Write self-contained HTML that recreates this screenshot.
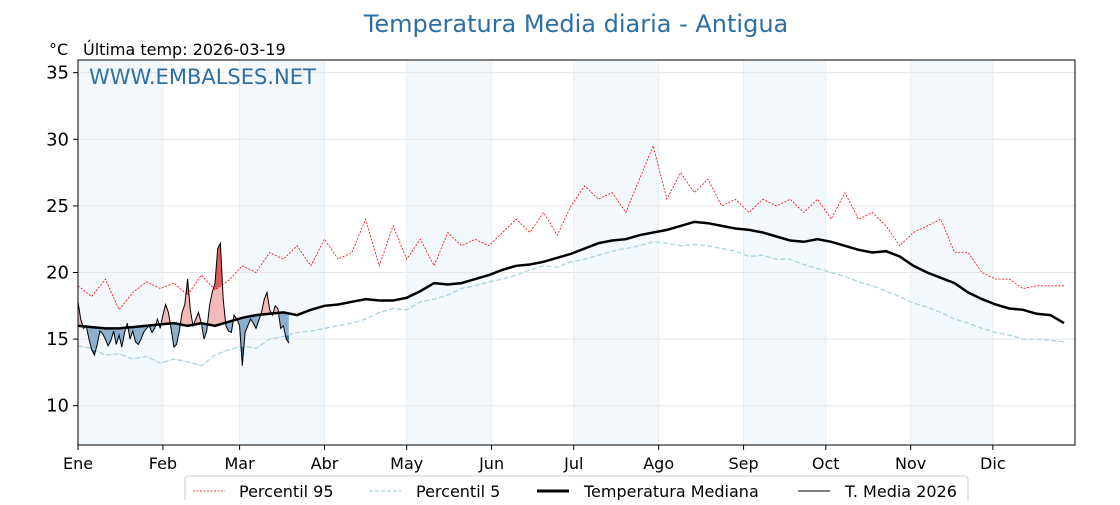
<!DOCTYPE html>
<html><head><meta charset="utf-8">
<style>
body{margin:0;background:#fff;width:1120px;height:500px;overflow:hidden;font-family:"Liberation Sans","DejaVu Sans",sans-serif}
</style></head>
<body>
<svg id="chart" width="1120" height="500" xmlns="http://www.w3.org/2000/svg" font-family="'DejaVu Sans','Liberation Sans',sans-serif">
<text x="576" y="32" text-anchor="middle" font-size="24" fill="#2e6fa3">Temperatura Media diaria - Antigua</text>
<text x="49" y="55" font-size="16">°C</text>
<text x="83" y="55" font-size="16">Última temp: 2026-03-19</text>
<g id="bands"></g><g id="grid"></g><g id="fills"></g><g id="lines"></g><g id="axes"></g>
<text x="89" y="84" font-size="21" fill="#2e6fa3">WWW.EMBALSES.NET</text>
<g>
<rect x="185" y="476" width="783" height="32" rx="3" fill="#fff" stroke="#ccc"/>
<line x1="193" y1="491" x2="225" y2="491" stroke="red" stroke-width="0.8" stroke-dasharray="2,1.5"/>
<text x="239" y="497" font-size="16">Percentil 95</text>
<line x1="369" y1="491" x2="401" y2="491" stroke="#a8d4e3" stroke-width="1.2" stroke-dasharray="4,2"/>
<text x="416" y="497" font-size="16">Percentil 5</text>
<line x1="537" y1="491" x2="569" y2="491" stroke="#000" stroke-width="3"/>
<text x="584" y="497" font-size="16">Temperatura Mediana</text>
<line x1="798" y1="491" x2="830" y2="491" stroke="#000" stroke-width="1"/>
<text x="845" y="497" font-size="16">T. Media 2026</text>
</g>
</svg>
<script>
const months=["Ene","Feb","Mar","Abr","May","Jun","Jul","Ago","Sep","Oct","Nov","Dic"];
const monthStart=[0,31,59,90,120,151,181,212,243,273,304,334];
const yTicks=[10,15,20,25,30,35];
const step=5;
const median=[16.0,15.9,15.8,15.8,15.9,16.0,16.1,16.2,16.0,16.2,16.0,16.3,16.6,16.8,16.9,17.0,16.8,17.2,17.5,17.6,17.8,18.0,17.9,17.9,18.1,18.6,19.2,19.1,19.2,19.5,19.8,20.2,20.5,20.6,20.8,21.1,21.4,21.8,22.2,22.4,22.5,22.8,23.0,23.2,23.5,23.8,23.7,23.5,23.3,23.2,23.0,22.7,22.4,22.3,22.5,22.3,22.0,21.7,21.5,21.6,21.2,20.5,20.0,19.6,19.2,18.5,18.0,17.6,17.3,17.2,16.9,16.8,16.2];
const p95=[19.0,18.2,19.5,17.2,18.5,19.3,18.8,19.2,18.3,19.8,18.7,19.4,20.5,20.0,21.5,21.0,22.0,20.5,22.5,21.0,21.5,24.0,20.5,23.5,21.0,22.5,20.5,23.0,22.0,22.5,22.0,23.0,24.0,23.0,24.5,22.8,25.0,26.5,25.5,26.0,24.5,27.0,29.5,25.5,27.5,26.0,27.0,25.0,25.5,24.5,25.5,25.0,25.5,24.5,25.5,24.0,26.0,24.0,24.5,23.5,22.0,23.0,23.5,24.0,21.5,21.5,20.0,19.5,19.5,18.8,19.0,19.0,19.0];
const p5=[14.5,14.3,13.8,13.9,13.5,13.7,13.2,13.5,13.3,13.0,13.8,14.2,14.5,14.3,15.0,15.2,15.5,15.6,15.8,16.0,16.2,16.5,17.0,17.3,17.2,17.8,18.0,18.3,18.8,19.0,19.3,19.5,19.8,20.2,20.5,20.4,20.8,21.0,21.3,21.6,21.8,22.0,22.3,22.2,22.0,22.1,22.0,21.8,21.6,21.2,21.3,21.0,21.0,20.6,20.3,20.0,19.7,19.3,19.0,18.6,18.2,17.7,17.4,17.0,16.5,16.2,15.8,15.5,15.3,15.0,15.0,14.9,14.8];
const t2026=[17.8,16.5,15.8,16.0,15.0,14.2,13.8,14.6,15.6,15.4,15.0,14.5,14.9,15.6,14.6,15.3,14.4,15.5,16.2,15.0,15.6,14.8,14.6,15.0,15.5,15.8,16.0,15.5,15.8,16.5,15.8,16.8,17.6,17.0,15.8,14.4,14.6,15.6,17.0,17.6,19.5,17.2,16.0,16.5,17.0,16.2,15.0,15.6,17.5,18.5,19.2,21.8,22.2,18.0,16.0,15.6,15.5,16.8,16.5,16.0,13.0,15.5,16.0,16.5,16.2,15.8,16.4,17.0,18.0,18.5,17.2,16.8,17.5,17.3,15.8,16.0,15.0,14.7];
const X0=78,X1=1075,Y0=60,Y1=445,D0=0,D1=364,V0=7.05,V1=35.95;
const xs=d=>X0+(d-D0)/(D1-D0)*(X1-X0);
const ys=v=>Y1-(v-V0)/(V1-V0)*(Y1-Y0);
const NS="http://www.w3.org/2000/svg";
function mk(tag,attrs,parent){const e=document.createElementNS(NS,tag);for(const k in attrs)e.setAttribute(k,attrs[k]);document.getElementById(parent).appendChild(e);return e;}
function interp(arr,d){const i=d/step,a=Math.floor(i),b=Math.min(a+1,arr.length-1),f=i-a;return arr[a]*(1-f)+arr[b]*f;}
// bands
for(let m=0;m<12;m+=2){const e=mk('rect',{x:xs(monthStart[m]),y:Y0,width:xs(monthStart[m+1])-xs(monthStart[m]),height:Y1-Y0,fill:'#f3f8fc'},'bands');

}
// grid
yTicks.forEach(v=>{const e=mk('line',{x1:X0,x2:X1,y1:ys(v),y2:ys(v),stroke:'#e6e6e6','stroke-width':1},'grid');

});
monthStart.forEach(d=>{const e=mk('line',{x1:xs(d),x2:xs(d),y1:Y0,y2:Y1,stroke:'#e6eef4','stroke-width':1},'grid');

});
// series paths
const serPts=(arr)=>arr.map((v,i)=>[xs(i*step),ys(v)]);
const pstr=pts=>pts.map((p,i)=>(i?'L':'M')+p[0].toFixed(1)+','+p[1].toFixed(1)).join('');
const cur=t2026.map((v,d)=>[xs(d),ys(v)]);
const curMed=t2026.map((v,d)=>[xs(d),ys(interp(median,d))]);
const curP95=t2026.map((v,d)=>[xs(d),ys(interp(p95,d))]);
const curP5=t2026.map((v,d)=>[xs(d),ys(interp(p5,d))]);
const defs=mk('defs',{},'fills');
function clip(id,ref,above){const c=document.createElementNS(NS,'clipPath');c.setAttribute('id',id);defs.appendChild(c);
const p=document.createElementNS(NS,'path');const yb=above?Y0:Y1;
p.setAttribute('d',pstr(ref)+`L${ref[ref.length-1][0]},${yb}L${ref[0][0]},${yb}Z`);c.appendChild(p);}
clip('abMed',curMed,true);clip('beMed',curMed,false);clip('abP95',curP95,true);clip('beP5',curP5,false);
function band(ref,clipId,fill,name){const d=pstr(cur)+pstr(ref.slice().reverse()).replace('M','L')+'Z';
const e=mk('path',{d:d,fill:fill,'clip-path':`url(#${clipId})`},'fills');

}
band(curMed,'abMed','#f4b9b9','above-median-fill');
band(curMed,'beMed','#8cb0cd','below-median-fill');
band(curP95,'abP95','#e35b5b','above-p95-fill');
band(curP5,'beP5','#2f6a9e','below-p5-fill');
let e;
e=mk('path',{d:pstr(serPts(p95)),fill:'none',stroke:'red','stroke-width':0.8,'stroke-dasharray':'2,1.5'},'lines');


e=mk('path',{d:pstr(serPts(p5)),fill:'none',stroke:'#a8d4e3','stroke-width':1.3,'stroke-dasharray':'5,2.5'},'lines');


e=mk('path',{d:pstr(serPts(median)),fill:'none',stroke:'#000','stroke-width':2.5},'lines');


e=mk('path',{d:pstr(cur),fill:'none',stroke:'#000','stroke-width':1},'lines');


// axes
e=mk('rect',{x:X0,y:Y0,width:X1-X0,height:Y1-Y0,fill:'none',stroke:'#000','stroke-width':1},'axes');


yTicks.forEach(v=>{mk('line',{x1:X0-5,x2:X0,y1:ys(v),y2:ys(v),stroke:'#000'},'axes');
const t=mk('text',{x:X0-9,y:ys(v)+6,'text-anchor':'end','font-size':18},'axes');t.textContent=v;

});
months.forEach((m,i)=>{const x=xs(monthStart[i]);mk('line',{x1:x,x2:x,y1:Y1,y2:Y1+5,stroke:'#000'},'axes');
const t=mk('text',{x:x,y:Y1+24,'text-anchor':'middle','font-size':16},'axes');t.textContent=m;

});
</script>
</body></html>
